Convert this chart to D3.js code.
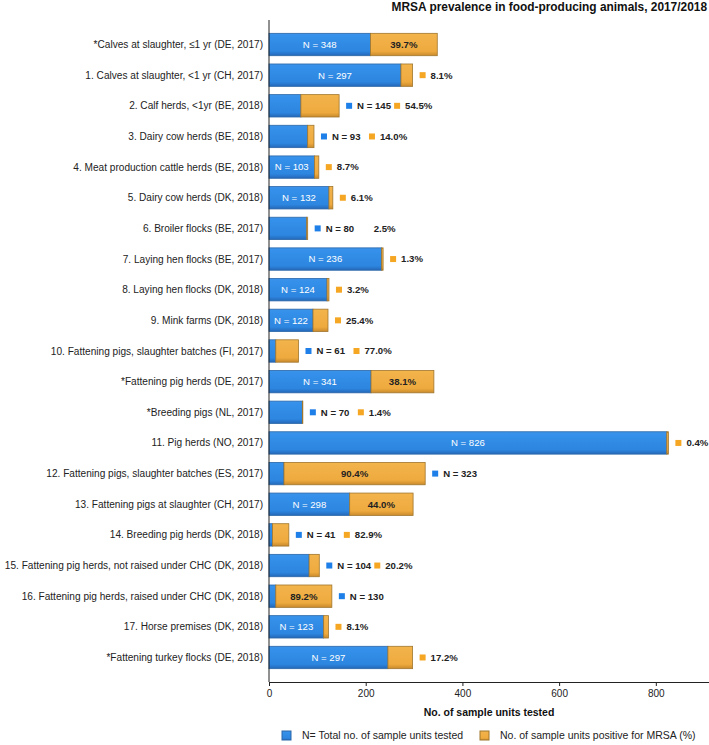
<!DOCTYPE html>
<html>
<head>
<meta charset="utf-8">
<script src="https://cdn.jsdelivr.net/npm/d3@7"></script>
<style>
  html, body { margin: 0; padding: 0; background: #fff; }
  svg { display: block; font-family: "Liberation Sans", Arial, sans-serif; }
</style>
</head>
<body>
<svg id="chart" width="709" height="745"></svg>
<script>
const categories = [
  "*Calves at slaughter, ≤1 yr (DE, 2017)",
  "1. Calves at slaughter, <1 yr (CH, 2017)",
  "2. Calf herds, <1yr (BE, 2018)",
  "3. Dairy cow herds (BE, 2018)",
  "4. Meat production cattle herds (BE, 2018)",
  "5. Dairy cow herds (DK, 2018)",
  "6. Broiler flocks (BE, 2017)",
  "7. Laying hen flocks (BE, 2017)",
  "8. Laying hen flocks (DK, 2018)",
  "9. Mink farms (DK, 2018)",
  "10. Fattening pigs, slaughter batches (FI, 2017)",
  "*Fattening pig herds (DE, 2017)",
  "*Breeding pigs (NL, 2017)",
  "11. Pig herds (NO, 2017)",
  "12. Fattening pigs, slaughter batches (ES, 2017)",
  "13. Fattening pigs at slaughter (CH, 2017)",
  "14. Breeding pig herds (DK, 2018)",
  "15. Fattening pig herds, not raised under CHC (DK, 2018)",
  "16. Fattening pig herds, raised under CHC (DK, 2018)",
  "17. Horse premises (DK, 2018)",
  "*Fattening turkey flocks (DE, 2018)"
];
const totalN = [348, 297, 145, 93, 103, 132, 80, 236, 124, 122, 61, 341, 70, 826, 323, 298, 41, 104, 130, 123, 297];
const positivePct = [39.7, 8.1, 54.5, 14.0, 8.7, 6.1, 2.5, 1.3, 3.2, 25.4, 77.0, 38.1, 1.4, 0.4, 90.4, 44.0, 82.9, 20.2, 89.2, 8.1, 17.2];
// where the N label goes: "in" = inside blue segment, "out" = outside the bar
const nLabelPos = ["in","in","out","out","in","in","out","in","in","in","out","in","out","in","out","in","out","out","out","in","in"];
// where the % label goes
const pctLabelPos = ["in","out","out","out","out","out","out","out","out","out","out","in","out","out","in","in","out","out","in","out","out"];
// whether the outside % label has its marker square
const pctMarker = [true,true,true,true,true,true,false,true,true,true,true,true,true,true,true,true,true,true,true,true,true];
const xTicks = [0, 200, 400, 600, 800];
const title = "MRSA prevalence in food-producing animals, 2017/2018";
const xTitle = "No. of sample units tested";
const legendLabels = ["N= Total no. of sample units tested", "No. of sample units positive for MRSA (%)"];

const data = categories.map((c, i) => {
  const pos = totalN[i] * positivePct[i] / 100;
  return { cat: c, n: totalN[i], pct: positivePct[i], pos: pos, neg: totalN[i] - pos,
           nPos: nLabelPos[i], pPos: pctLabelPos[i], marker: pctMarker[i] };
});

const svg = d3.select("#chart");
const defs = svg.append("defs");
function grad(id, stops) {
  const g = defs.append("linearGradient").attr("id", id).attr("x1", 0).attr("y1", 0).attr("x2", 0).attr("y2", 1);
  stops.forEach(s => g.append("stop").attr("offset", s[0]).attr("stop-color", s[1]));
}
grad("gBlue", [[0, "#3c93ea"], [0.15, "#3490ea"], [0.8, "#2d86e0"], [1, "#2468b8"]]);
grad("gOrange", [[0, "#f3b54a"], [0.15, "#f2b24a"], [0.8, "#eeaa3e"], [1, "#c98a2c"]]);

const x = d3.scaleLinear().domain([0, 910]).range([269, 709]);
const y = d3.scaleBand().domain(categories).range([20, 682]).paddingInner(0.27).paddingOuter(0.435);

const blue = "#1e7fe8", orange = "#f5a623";

// title
svg.append("text").attr("x", 707).attr("y", 11).attr("text-anchor", "end")
  .attr("font-size", 11.9).attr("font-weight", "bold").attr("fill", "#111").text(title);

// bars
const rows = svg.append("g").selectAll("g").data(data).join("g");
rows.append("rect")
  .attr("x", x(0)).attr("y", d => y(d.cat))
  .attr("width", d => x(d.neg) - x(0)).attr("height", y.bandwidth())
  .attr("fill", "url(#gBlue)").attr("stroke", "#2a66a8").attr("stroke-width", 0.8);
rows.append("rect")
  .attr("x", d => x(d.neg)).attr("y", d => y(d.cat))
  .attr("width", d => x(d.n) - x(d.neg)).attr("height", y.bandwidth())
  .attr("fill", "url(#gOrange)").attr("stroke", "#a0762e").attr("stroke-width", 0.8);

// labels
const fs = 9.6;
rows.each(function(d) {
  const g = d3.select(this);
  const cy = y(d.cat) + y.bandwidth() / 2;
  if (d.nPos === "in") {
    g.append("text").attr("x", (x(0) + x(d.neg)) / 2).attr("y", cy).attr("dy", "0.35em")
      .attr("text-anchor", "middle").attr("font-size", fs).attr("fill", "#fff").text("N = " + d.n);
  }
  if (d.pPos === "in") {
    g.append("text").attr("x", (x(d.neg) + x(d.n)) / 2).attr("y", cy).attr("dy", "0.35em")
      .attr("text-anchor", "middle").attr("font-size", fs).attr("font-weight", "bold").attr("fill", "#222")
      .text(d.pct.toFixed(1) + "%");
  }
  let mx = x(d.n) + 10;
  if (d.nPos === "out") {
    g.append("rect").attr("x", mx - 3).attr("y", cy - 3).attr("width", 6).attr("height", 6).attr("fill", blue);
    g.append("text").attr("x", mx + 8).attr("y", cy).attr("dy", "0.35em").attr("font-size", fs)
      .attr("font-weight", "bold").attr("fill", "#222").text("N = " + d.n);
    mx += 48;
  }
  if (d.pPos === "out") {
    if (d.marker) {
      g.append("rect").attr("x", mx - 3).attr("y", cy - 3).attr("width", 6).attr("height", 6).attr("fill", orange);
    }
    g.append("text").attr("x", mx + 8).attr("y", cy).attr("dy", "0.35em").attr("font-size", fs)
      .attr("font-weight", "bold").attr("fill", "#222").text(d.pct.toFixed(1) + "%");
  }
});

// y axis
const yAxis = svg.append("g").attr("transform", `translate(${x(0)},0)`)
  .call(d3.axisLeft(y).tickSize(0).tickPadding(6.5));
yAxis.select(".domain").attr("stroke", "#222").attr("d", `M0,20V682`);
yAxis.selectAll("text").attr("font-size", 11).attr("fill", "#222")
  .attr("transform", "scale(0.92,1)")
  .attr("font-family", "Liberation Sans, Arial, sans-serif");

// x axis
const xAxis = svg.append("g").attr("transform", `translate(0,682)`)
  .call(d3.axisBottom(x).tickValues(xTicks).tickSize(4).tickPadding(4).tickSizeOuter(0));
xAxis.select(".domain").attr("stroke", "#222");
xAxis.selectAll(".tick line").attr("stroke", "#222");
xAxis.selectAll("text").attr("font-size", 10).attr("fill", "#222").attr("font-family", "Liberation Sans, Arial, sans-serif");

svg.append("text").attr("x", (x(0) + 709) / 2).attr("y", 716).attr("text-anchor", "middle")
  .attr("font-size", 10.5).attr("font-weight", "bold").attr("fill", "#111").text(xTitle);

// legend
const leg = [{ x: 282, fill: "url(#gBlue)", stroke: "#2a66a8", t: legendLabels[0] },
             { x: 480, fill: "url(#gOrange)", stroke: "#a0762e", t: legendLabels[1] }];
const lg = svg.append("g").selectAll("g").data(leg).join("g");
lg.append("rect").attr("x", d => d.x).attr("y", 731).attr("width", 9).attr("height", 9)
  .attr("fill", d => d.fill).attr("stroke", d => d.stroke).attr("stroke-width", 1);
lg.append("text").attr("x", d => d.x + 20).attr("y", 735.5).attr("dy", "0.35em")
  .attr("font-size", 10.5).attr("fill", "#222").text(d => d.t);
</script>
</body>
</html>
